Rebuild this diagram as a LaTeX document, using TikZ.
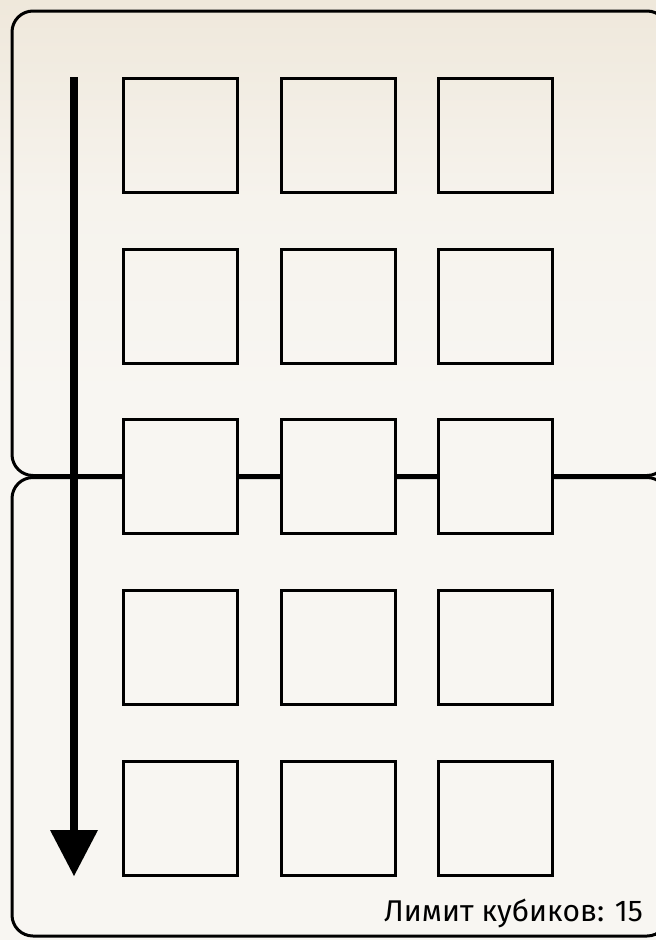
\documentclass[tikz,border=0pt]{standalone}
\usepackage{fontspec}
\setmainfont{Fira Sans}
\usetikzlibrary{calc}
\definecolor{bgtop}{HTML}{EFE8DB}
\definecolor{bgmid}{HTML}{F6F3ED}
\definecolor{bgbot}{HTML}{F8F6F2}
\definecolor{boxfill}{HTML}{F8F6F2}
\tikzset{
  frame/.style={draw=black, line width=3pt, rounded corners=21pt},
  cell/.style={draw=black, line width=3pt, minimum size=114pt, inner sep=0pt, outer sep=0pt},
  midcell/.style={cell, fill=boxfill},
  flow/.style={draw=black, line width=8pt},
  flowhead/.style={fill=black},
  limit/.style={font=\fontsize{30}{36}\selectfont, anchor=base east, inner sep=0pt}
}
\begin{document}
\begin{tikzpicture}[x=1pt,y=-1pt]
\useasboundingbox (0,0) rectangle (656,940);
\fill[bgbot] (0,0) rectangle (656,940);
\fill[top color=bgtop, bottom color=bgbot, middle color=bgmid] (0,0) rectangle (656,400);
\clip (0,0) rectangle (656,940);
% frames
\draw[frame] (12,11) rectangle (668,475.5);
\draw[frame] (12,477.5) rectangle (668,936);
% cells
\foreach \r/\y in {1/135,2/306,4/647,5/818}{
  \foreach \c/\x in {1/180.5,2/338,3/495.5}{
    \node[cell] (c\r\c) at (\x,\y) {};
  }
}
\foreach \c/\x in {1/180.5,2/338,3/495.5}{
  \node[midcell] (c3\c) at (\x,476.5) {};
}
% flow arrow
\coordinate (arrS) at (74,77);
\coordinate (arrB) at (74,830);
\coordinate (arrE) at (74,876);
\draw[flow] (arrS) -- (arrB);
\fill[flowhead] ($(arrB)+(-24,0)$) -- ($(arrB)+(24,0)$) -- (arrE) -- cycle;
% label
\node[limit] (lim) at (643,921.5) {Лимит кубиков: 15};
\end{tikzpicture}
\end{document}
